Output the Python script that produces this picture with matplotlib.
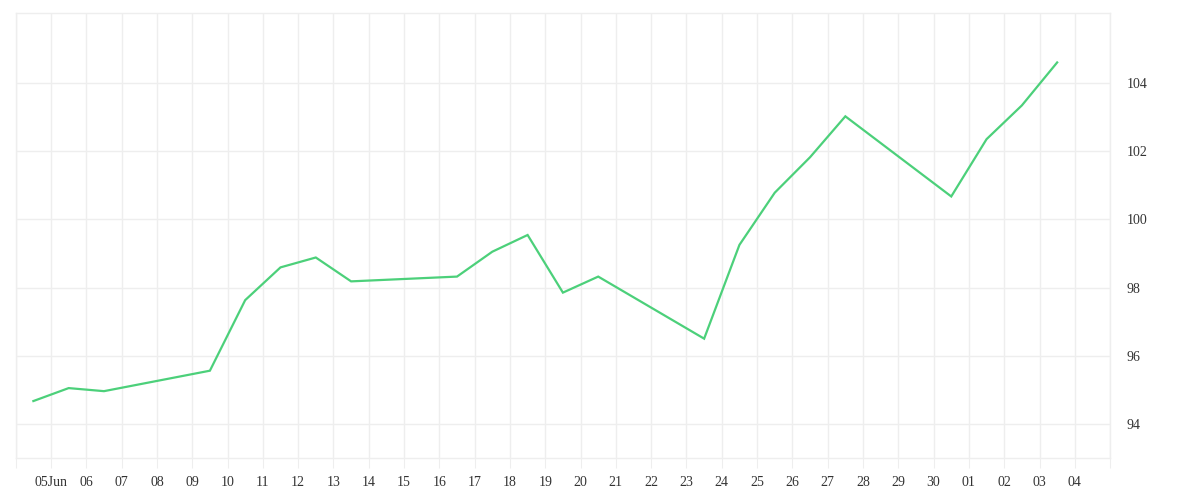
import numpy as np
import pandas as pd
import matplotlib
matplotlib.use("Agg")
import matplotlib.pyplot as plt
import matplotlib.dates as mdates

# daily closes (plotted at midday), weekends missing
dates = ["2014-06-04", "2014-06-05", "2014-06-06", "2014-06-09", "2014-06-10",
         "2014-06-11", "2014-06-12", "2014-06-13", "2014-06-16", "2014-06-17",
         "2014-06-18", "2014-06-19", "2014-06-20", "2014-06-23", "2014-06-24",
         "2014-06-25", "2014-06-26", "2014-06-27", "2014-06-30", "2014-07-01",
         "2014-07-02", "2014-07-03"]
values = [94.67, 95.05, 94.96, 95.56, 97.63,
          98.59, 98.88, 98.18, 98.32, 99.05,
          99.54, 97.85, 98.32, 96.50, 99.25,
          100.78, 101.82, 103.02, 100.67, 102.35,
          103.34, 104.60]
y_ticks = [94, 96, 98, 100, 102, 104]

x = pd.to_datetime(dates) + pd.Timedelta(hours=12)

plt.rcParams['font.family'] = ['Liberation Serif', 'DejaVu Serif']

fig = plt.figure(figsize=(12, 5), dpi=100)
ax = fig.add_axes([0.0131, 0.084, 0.912, 0.89])

ax.plot(x, values, color="#4cd07a", lw=1.6, solid_joinstyle="miter")

ax.set_xlim(pd.Timestamp("2014-06-04"), pd.Timestamp("2014-07-05"))
ax.set_ylim(93, 106.05)

day_ticks = pd.date_range("2014-06-04", "2014-07-05", freq="D")
ax.set_xticks(day_ticks)
labels = []
for d in day_ticks:
    if d == day_ticks[0] or d == day_ticks[-1]:
        labels.append("")
    elif d.day == 5 and d.month == 6:
        labels.append("05Jun")
    else:
        labels.append(d.strftime("%d"))
ax.set_xticklabels(labels)

ax.set_yticks(y_ticks)
ax.yaxis.tick_right()

ax.grid(True, color="#eeeeee", lw=1)
ax.set_axisbelow(True)
for s in ax.spines.values():
    s.set_color("#eeeeee")
    s.set_linewidth(1)

ax.tick_params(axis="x", length=7, color="#eeeeee", pad=6, labelsize=10, labelcolor="#333333")
ax.tick_params(axis="y", length=0, pad=12, labelsize=10, labelcolor="#333333")

fig.savefig("out.png", dpi=100)
